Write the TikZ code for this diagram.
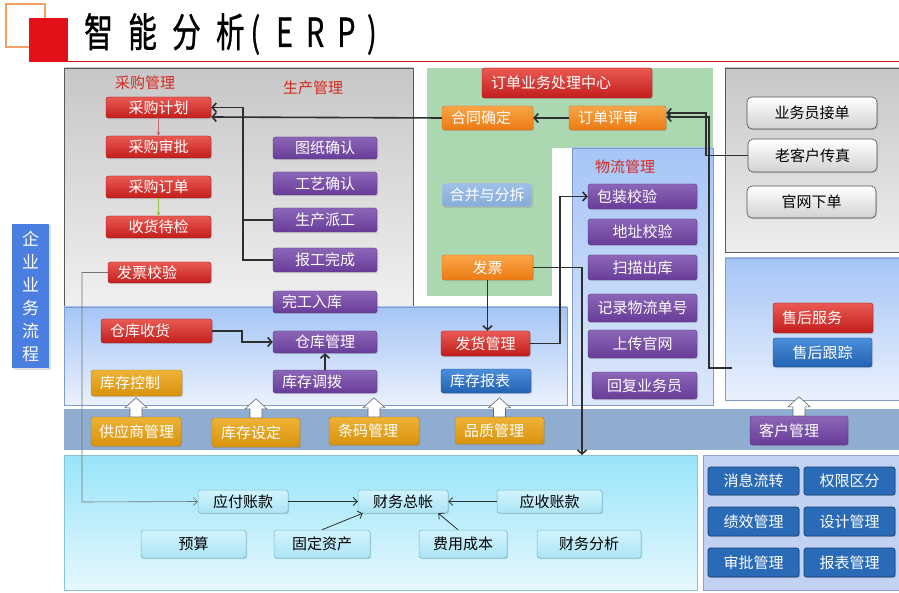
\documentclass[tikz,border=0pt]{standalone}
\usepackage{fontspec}
\setmainfont{Noto Sans CJK SC}
\newfontfamily\titlefont[FakeBold=1]{Noto Sans CJK SC}
\usetikzlibrary{arrows.meta,shadows,calc}
\definecolor{redT}{HTML}{EA5A52}\definecolor{redB}{HTML}{C21E1C}\definecolor{redD}{HTML}{9A1414}
\definecolor{purT}{HTML}{8C66B8}\definecolor{purB}{HTML}{683C98}\definecolor{purD}{HTML}{553080}
\definecolor{orgT}{HTML}{F9A548}\definecolor{orgB}{HTML}{EC7A12}\definecolor{orgD}{HTML}{D06A10}
\definecolor{gldT}{HTML}{EEB236}\definecolor{gldB}{HTML}{D8930E}\definecolor{gldD}{HTML}{B87A10}
\definecolor{bluT}{HTML}{4A8EDA}\definecolor{bluB}{HTML}{2262B2}\definecolor{bluD}{HTML}{1A4C8C}
\definecolor{navy}{HTML}{2A6BB8}\definecolor{navyD}{HTML}{163E74}
\definecolor{cyT}{HTML}{D2F4FD}\definecolor{cyB}{HTML}{ACE4F5}\definecolor{cyD}{HTML}{72B8CC}
\definecolor{gryB}{HTML}{D2D2D2}\definecolor{gryD}{HTML}{505050}
\definecolor{lnC}{HTML}{2E2E2E}
\definecolor{lblR}{HTML}{D42A20}
\definecolor{hbT}{HTML}{9EC0E8}\definecolor{hbB}{HTML}{86ACDA}
\definecolor{pGreen}{HTML}{ACD8B1}
\definecolor{pBlT}{HTML}{A6C5F6}\definecolor{pBlB}{HTML}{EAF1FD}\definecolor{pBlB2}{HTML}{DCE8FB}\definecolor{pBlD}{HTML}{7F9CC5}
\definecolor{pStrip}{HTML}{8FADD1}
\definecolor{pCyT}{HTML}{98E4FA}\definecolor{pCyB}{HTML}{E6F8FD}\definecolor{pCyD}{HTML}{85C5D5}
\definecolor{pBR}{HTML}{C3D2F3}\definecolor{pBRD}{HTML}{8D9FCC}
\definecolor{sideB}{HTML}{4A7EE0}
\definecolor{arR}{HTML}{C86E6E}\definecolor{arG}{HTML}{8CC446}
\definecolor{tOr}{HTML}{F3A064}\definecolor{tRed}{HTML}{E3101A}
\newcommand{\fs}{\fontsize{15}{18}\selectfont}
\newcommand{\blockup}[1]{\draw[blk] (#1) ++(-6,0) -- ++(0,-9) -- ++(-5,0) -- ++(11,-10) -- ++(11,10) -- ++(-5,0) -- ++(0,9) -- cycle;}
\begin{document}
\begin{tikzpicture}[x=1pt,y=-1pt,
 bx/.style={rounded corners=2.5pt, inner sep=0pt, font=\fs, text=white, drop shadow={opacity=0.3, shadow xshift=1pt, shadow yshift=-1.2pt}},
 sz/.style 2 args={minimum width=#1pt, minimum height=#2pt},
 lft/.style 2 args={text width=#1pt, align=left, inner xsep=9pt, minimum height=#2pt},
 rb/.style={bx, top color=redT, bottom color=redB, draw=redD, line width=0.4pt},
 pb/.style={bx, top color=purT, bottom color=purB, draw=purD, line width=0.4pt},
 ob/.style={bx, top color=orgT, bottom color=orgB, draw=orgD, line width=0.4pt},
 gb/.style={bx, top color=gldT, bottom color=gldB, draw=gldD, line width=0.4pt},
 bb/.style={bx, top color=bluT, bottom color=bluB, draw=bluD, line width=0.4pt},
 nb/.style={bx, fill=navy, draw=navyD, line width=0.7pt},
 cb/.style={bx, text=black, top color=cyT, bottom color=cyB, draw=cyD, line width=0.5pt},
 yb/.style={bx, text=black, top color=white, bottom color=gryB, draw=gryD, line width=0.6pt, rounded corners=5pt},
 hb/.style={bx, top color=hbT, bottom color=hbB, draw=orgT!60, line width=0.4pt},
 lbl/.style={font=\fs, text=lblR, inner sep=0pt},
 conn/.style={draw=lnC, line width=1.6pt, -{Straight Barb[length=4pt, width=9pt]}},
 plain/.style={draw=lnC, line width=1.6pt},
 fin/.style={draw=lnC, line width=0.8pt, -{Straight Barb[length=4pt, width=8pt]}},
 gln/.style={draw=black!55, line width=0.6pt, -{Straight Barb[length=4pt, width=8pt]}},
 blk/.style={fill=white, draw=black!60, line width=0.6pt, line join=miter}]
\useasboundingbox (0,0) rectangle (899,593);
% ---------- title
\draw[draw=tOr, line width=2pt] (6,4) rectangle (45,47);
\fill[tRed] (29,18) rectangle (68,62);
\draw[draw=tRed, line width=1.5pt] (68,61.5) -- (899,61.5);
\node[anchor=west, inner sep=0pt] (title) at (84,34) {\scalebox{0.72}[1]{\titlefont\fontsize{40}{40}\selectfont 智\hspace{21pt}能\hspace{21pt}分\hspace{21pt}析\hspace{8pt}(\hspace{22pt}E\hspace{18pt}R\hspace{18pt}P\hspace{16pt})}};
% ---------- panels
\path[top color=black!22, bottom color=black!6, draw=black!65, line width=0.8pt] (64,68) rectangle (413,307);
\path[top color=black!22, bottom color=black!7, draw=black!65, line width=0.8pt] (725,68) rectangle (899,252);
\fill[pGreen] (427,68) rectangle (713,296);
\fill[white] (552,148) rectangle (572,296);
\path[top color=pBlT, bottom color=pBlB, draw=pBlD, line width=0.5pt] (64,307) rectangle (567,405);
\path[top color=pBlT, bottom color=pBlB2, draw=pBlD, line width=0.5pt] (572,148) rectangle (713,405);
\path[top color=pBlT, bottom color=pBlB, draw=pBlD, line width=0.5pt] (725,258) rectangle (899,400);
\fill[pStrip] (64,409) rectangle (899,450);
\path[top color=pCyT, bottom color=pCyB, draw=pCyD, line width=0.6pt] (64,455) rectangle (697,590);
\path[fill=pBR, draw=pBRD, line width=0.6pt] (703,455) rectangle (899,590);
% ---------- side label
\node[fill=sideB, text=white, minimum width=37pt, minimum height=144pt, inner sep=0pt, align=center, font=\fontsize{17}{23}\selectfont, drop shadow={opacity=0.25, shadow xshift=1.5pt, shadow yshift=-1.5pt}] (side) at (30.5,296) {企\\业\\业\\务\\流\\程};
% ---------- section labels
\node[lbl] (lcg) at (145,83) {采购管理};
\node[lbl] (lsc) at (313,88) {生产管理};
\node[lbl] (lwl) at (625,167) {物流管理};
% ---------- purchase
\node[rb, sz={105}{21}] (cgjh) at (158.5,107.5) {采购计划};
\node[rb, sz={105}{22}] (cgsp) at (158.5,147) {采购审批};
\node[rb, sz={105}{22}] (cgdd) at (158.5,187) {采购订单};
\node[rb, sz={105}{22}] (shdj) at (158.5,227) {收货待检};
\node[rb, lft={85}{21}] (fpjy) at (159.5,272.5) {发票校验};
% ---------- production
\node[pb, sz={104}{22}] (tzqr) at (325,148) {图纸确认};
\node[pb, sz={104}{23}] (gyqr) at (325,183.5) {工艺确认};
\node[pb, sz={104}{24}] (scpg) at (325,220) {生产派工};
\node[pb, sz={104}{24}] (bgwc) at (325,260) {报工完成};
\node[pb, lft={86}{22}] (wgrk) at (325,302) {完工入库};
\node[pb, sz={104}{22}] (ckgl) at (325,342) {仓库管理};
\node[pb, lft={86}{23}] (kcdb) at (325,381.5) {库存调拨};
\node[rb, lft={93}{24}] (cksh) at (156.5,331) {仓库收货};
\node[gb, lft={73}{26}] (kckz) at (136.5,383) {库存控制};
% ---------- strip
\node[gb, text width=74pt, align=left, inner xsep=8pt, minimum height=29pt] (gys) at (136,431.5) {供应商管理};
\node[gb, lft={70}{29}] (kcsd) at (256,432.5) {库存设定};
\node[gb, lft={72}{28}] (tmgl) at (374,431) {条码管理};
\node[gb, lft={71}{27}] (pzgl) at (499.5,430.5) {品质管理};
\node[pb, lft={80}{29}] (khgl) at (799,430.5) {客户管理};
% ---------- order centre
\node[rb, lft={152}{30}] (ywzx) at (567,83) {订单业务处理中心};
\node[ob, lft={73}{24}] (htqd) at (487.5,118) {合同确定};
\node[ob, lft={79}{24}] (ddps) at (617.5,118) {订单评审};
\node[hb, sz={90}{24}] (hbcf) at (487,195) {合并与分拆};
\node[ob, sz={91}{25}] (fp) at (487.5,267.5) {发票};
\node[rb, sz={89}{25}] (fhgl) at (485.5,343.5) {发货管理};
\node[bb, lft={72}{24}] (kcbb) at (486,381) {库存报表};
% ---------- logistics
\node[pb, lft={91}{25}] (bzjy) at (642.5,196.5) {包装校验};
\node[pb, sz={109}{26}] (dzjy) at (642.5,232) {地址校验};
\node[pb, sz={109}{25}] (smck) at (642.5,267.5) {扫描出库};
\node[pb, sz={109}{28}] (jlwl) at (642.5,308) {记录物流单号};
\node[pb, sz={109}{28}] (scgw) at (642.5,344) {上传官网};
\node[pb, sz={105}{27}] (hfyw) at (644.5,385.5) {回复业务员};
% ---------- right side
\node[yb, sz={130}{32}] (ywjd) at (812,113) {业务员接单};
\node[yb, sz={129}{33}] (lkh) at (812.5,155.5) {老客户传真};
\node[yb, sz={129}{32}] (gwxd) at (811.5,202) {官网下单};
\node[rb, lft={82}{30}] (shfw) at (823,318) {售后服务};
\node[bb, sz={99}{29}] (shgz) at (822.5,352.5) {售后跟踪};
% ---------- finance
\node[cb, sz={90}{23}] (yfzk) at (243,501.5) {应付账款};
\node[cb, sz={90}{23}] (cwzz) at (403,501.5) {财务总帐};
\node[cb, sz={105}{23}] (yszk) at (549.5,501.5) {应收账款};
\node[cb, sz={105}{28}] (ys) at (193.5,544) {预算};
\node[cb, sz={96}{28}] (gdzc) at (322,544) {固定资产};
\node[cb, sz={88}{28}] (fycb) at (463,544) {费用成本};
\node[cb, sz={104}{28}] (cwfx) at (589,544) {财务分析};
% ---------- bottom right
\node[nb, sz={91}{28}] (xxlz) at (753.5,481) {消息流转};
\node[nb, sz={91}{28}] (qxqf) at (849.5,481) {权限区分};
\node[nb, sz={91}{29}] (jxgl) at (753.5,521.5) {绩效管理};
\node[nb, sz={91}{29}] (sjgl) at (849.5,521.5) {设计管理};
\node[nb, sz={91}{29}] (spgl) at (753.5,562.5) {审批管理};
\node[nb, sz={91}{29}] (bbgl) at (849.5,562.5) {报表管理};
% ---------- bus coordinates
\coordinate (bus1) at (243,107.5);
\coordinate (bus2) at (706,113);
\coordinate (bus3) at (709,117);
\coordinate (shx) at (732,368);
\coordinate (bus4) at (560,196.5);
\coordinate (bus5) at (242,342);
\coordinate (bus6) at (82,502);
\coordinate (finx) at (582,455);
% ---------- connectors
\draw[draw=arR, line width=0.6pt, -{Stealth[length=4pt,width=4pt]}] (cgjh) -- (cgsp);
\draw[draw=arG, line width=0.6pt, -{Stealth[length=4pt,width=4pt]}] (cgdd) -- (shdj);
\draw[plain] (bgwc.west) -| (bus1);
\draw[conn] (scpg.west) -| (bus1) -- (bus1 -| cgjh.east);
\draw[conn] (htqd.west) -- ([yshift=1pt]htqd.west -| cgjh.east);
\draw[conn] (ddps.west) -- (htqd.east);
\draw[conn] (lkh.west) -| (bus2) -- (bus2 -| ddps.east);
\draw[conn] (shx) -| (bus3) -- (bus3 -| ddps.east);
\draw[conn] (fp.south) -- (fp.south |- fhgl.north);
\draw[conn] (fp.east) -| (finx);
\draw[conn] (fhgl.east) -| (bus4) -- (bzjy.west);
\draw[conn] (cksh.east) -| (bus5) -- (ckgl.west);
\draw[conn] (kcdb.north) -- (ckgl.south);
\draw[gln] (fpjy.west) -| (bus6) -- (yfzk.west);
\draw[fin] (yfzk.east) -- (cwzz.west);
\draw[fin] (yszk.west) -- (cwzz.east);
\draw[fin] (gdzc.north) -- ([xshift=5pt]cwzz.south west);
\draw[fin] ([xshift=-5pt]fycb.north) -- ([xshift=-10pt]cwzz.south east);
% ---------- block arrows
\blockup{gys.north}
\blockup{kcsd.north}
\blockup{tmgl.north}
\blockup{pzgl.north}
\blockup{khgl.north}
\end{tikzpicture}
\end{document}
